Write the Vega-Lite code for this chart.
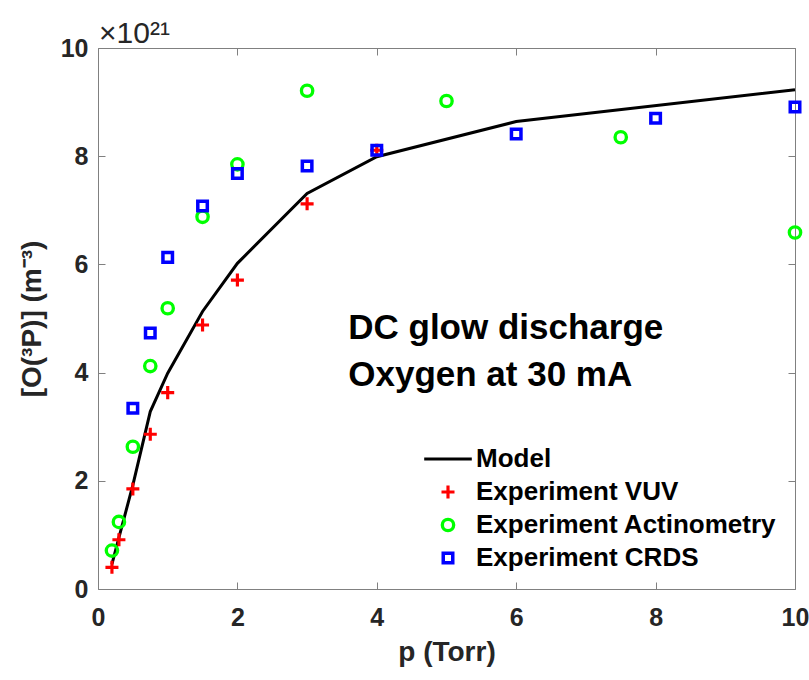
{
  "$schema": "https://vega.github.io/schema/vega-lite/v6.json",
  "width": 697,
  "height": 541,
  "autosize": {"type": "none"},
  "padding": {"left": 98, "top": 48, "right": 14, "bottom": 91},
  "background": "white",
  "title": {"text": "×10²¹", "anchor": "start", "frame": "group", "fontSize": 30, "fontWeight": "normal", "font": "Liberation Sans", "color": "#262626", "baseline": "alphabetic", "offset": -37, "dx": 1},
  "datasets": {
    "model": [
      {"p": 0.2, "n": 0.46}, {"p": 0.3, "n": 0.95}, {"p": 0.5, "n": 1.92}, {"p": 0.75, "n": 3.28},
      {"p": 1, "n": 3.99}, {"p": 1.5, "n": 5.13}, {"p": 2, "n": 6.02}, {"p": 3, "n": 7.31},
      {"p": 4, "n": 7.99}, {"p": 6, "n": 8.64}, {"p": 10, "n": 9.23}
    ],
    "exp": [
      {"series": "Experiment VUV", "p": 0.2, "n": 0.40},
      {"series": "Experiment VUV", "p": 0.3, "n": 0.91},
      {"series": "Experiment VUV", "p": 0.5, "n": 1.85},
      {"series": "Experiment VUV", "p": 0.75, "n": 2.86},
      {"series": "Experiment VUV", "p": 1, "n": 3.63},
      {"series": "Experiment VUV", "p": 1.5, "n": 4.88},
      {"series": "Experiment VUV", "p": 2, "n": 5.71},
      {"series": "Experiment VUV", "p": 3, "n": 7.12},
      {"series": "Experiment VUV", "p": 4, "n": 8.11},
      {"series": "Experiment Actinometry", "p": 0.2, "n": 0.71},
      {"series": "Experiment Actinometry", "p": 0.3, "n": 1.24},
      {"series": "Experiment Actinometry", "p": 0.5, "n": 2.63},
      {"series": "Experiment Actinometry", "p": 0.75, "n": 4.12},
      {"series": "Experiment Actinometry", "p": 1, "n": 5.19},
      {"series": "Experiment Actinometry", "p": 1.5, "n": 6.88},
      {"series": "Experiment Actinometry", "p": 2, "n": 7.85},
      {"series": "Experiment Actinometry", "p": 3, "n": 9.21},
      {"series": "Experiment Actinometry", "p": 5, "n": 9.02},
      {"series": "Experiment Actinometry", "p": 7.5, "n": 8.35},
      {"series": "Experiment Actinometry", "p": 10, "n": 6.59},
      {"series": "Experiment CRDS", "p": 0.5, "n": 3.34},
      {"series": "Experiment CRDS", "p": 0.75, "n": 4.73},
      {"series": "Experiment CRDS", "p": 1, "n": 6.13},
      {"series": "Experiment CRDS", "p": 1.5, "n": 7.08},
      {"series": "Experiment CRDS", "p": 2, "n": 7.68},
      {"series": "Experiment CRDS", "p": 3, "n": 7.82},
      {"series": "Experiment CRDS", "p": 4, "n": 8.11},
      {"series": "Experiment CRDS", "p": 6, "n": 8.41},
      {"series": "Experiment CRDS", "p": 8, "n": 8.70},
      {"series": "Experiment CRDS", "p": 10, "n": 8.91}
    ],
    "notes": [
      {"x": 3.59, "y": 4.83, "label": "DC glow discharge"},
      {"x": 3.59, "y": 3.96, "label": "Oxygen at 30 mA"}
    ]
  },
  "layer": [
    {
      "data": {"name": "model"},
      "mark": {"type": "line", "color": "#000000", "strokeWidth": 3},
      "encoding": {
        "x": {"field": "p", "type": "quantitative", "scale": {"domain": [0, 10], "nice": false},
          "axis": {"orient": "bottom", "values": [0, 2, 4, 6, 8, 10], "labelFlush": false, "tickSize": -7, "tickColor": "#808080", "domain": false, "grid": false,
            "labelFontSize": 25, "labelFontWeight": "bold", "labelFont": "Liberation Sans", "labelColor": "#262626", "labelPadding": 23,
            "title": "p (Torr)", "titleFontSize": 28, "titleFontWeight": "bold", "titleFont": "Liberation Sans", "titleColor": "#262626", "titlePadding": 8}},
        "y": {"field": "n", "type": "quantitative", "scale": {"domain": [0, 10], "nice": false},
          "axis": {"orient": "left", "values": [0, 2, 4, 6, 8, 10], "labelFlush": false, "tickSize": -7, "tickColor": "#808080", "domain": false, "grid": false,
            "labelFontSize": 25, "labelFontWeight": "bold", "labelFont": "Liberation Sans", "labelColor": "#262626", "labelPadding": 17,
            "title": "[O(³P)] (m⁻³)", "titleFontSize": 28, "titleFontWeight": "bold", "titleFont": "Liberation Sans", "titleColor": "#262626", "titlePadding": 14}}
      }
    },
    {
      "data": {"name": "exp"},
      "mark": {"type": "point", "filled": false, "size": 196, "opacity": 1},
      "encoding": {
        "x": {"field": "p", "type": "quantitative",
          "axis": {"orient": "top", "values": [0, 2, 4, 6, 8, 10], "tickSize": -7, "tickColor": "#808080", "domain": false, "grid": false, "labels": false, "title": null}},
        "y": {"field": "n", "type": "quantitative",
          "axis": {"orient": "right", "values": [0, 2, 4, 6, 8, 10], "tickSize": -7, "tickColor": "#808080", "domain": false, "grid": false, "labels": false, "title": null}},
        "color": {"field": "series", "type": "nominal",
          "scale": {"domain": ["Model", "Experiment VUV", "Experiment Actinometry", "Experiment CRDS"], "range": ["#000000", "#ff0000", "#00ff00", "#0000ff"]},
          "legend": {"orient": "none", "legendX": 337, "legendY": 398, "title": null, "padding": 0, "labelFontSize": 26, "labelFontWeight": "bold", "labelFont": "Liberation Sans", "labelColor": "#000000", "labelOffset": 15, "labelLimit": 0, "rowPadding": 7, "symbolSize": 196}},
        "shape": {"field": "series", "type": "nominal",
          "scale": {"domain": ["Model", "Experiment VUV", "Experiment Actinometry", "Experiment CRDS"],
            "range": ["M-3.4,0L3.4,0", "M-0.93,0L0.93,0M0,-0.93L0,0.93", "M0.81,0A0.81,0.81,0,1,1,-0.81,0A0.81,0.81,0,1,1,0.81,0Z", "M-0.68,-0.68L0.68,-0.68L0.68,0.68L-0.68,0.68Z"]},
          "legend": {"orient": "none", "legendX": 337, "legendY": 398, "title": null, "padding": 0, "labelFontSize": 26, "labelFontWeight": "bold", "labelFont": "Liberation Sans", "labelColor": "#000000", "labelOffset": 15, "labelLimit": 0, "rowPadding": 7, "symbolSize": 196}},
        "strokeWidth": {"field": "series", "type": "nominal",
          "scale": {"domain": ["Model", "Experiment VUV", "Experiment Actinometry", "Experiment CRDS"], "range": [3, 3.5, 3, 4]},
          "legend": {"orient": "none", "legendX": 337, "legendY": 398, "title": null, "padding": 0, "labelFontSize": 26, "labelFontWeight": "bold", "labelFont": "Liberation Sans", "labelColor": "#000000", "labelOffset": 15, "labelLimit": 0, "rowPadding": 7, "symbolSize": 196}}
      }
    },
    {
      "data": {"name": "notes"},
      "mark": {"type": "text", "align": "left", "baseline": "middle", "fontSize": 35, "fontWeight": "bold", "font": "Liberation Sans", "color": "#000000"},
      "encoding": {
        "x": {"field": "x", "type": "quantitative", "axis": null},
        "y": {"field": "y", "type": "quantitative", "axis": null},
        "text": {"field": "label", "type": "nominal"}
      }
    }
  ],
  "resolve": {"axis": {"x": "independent", "y": "independent"}},
  "config": {
    "view": {"stroke": "#808080", "strokeWidth": 1}
  }
}
